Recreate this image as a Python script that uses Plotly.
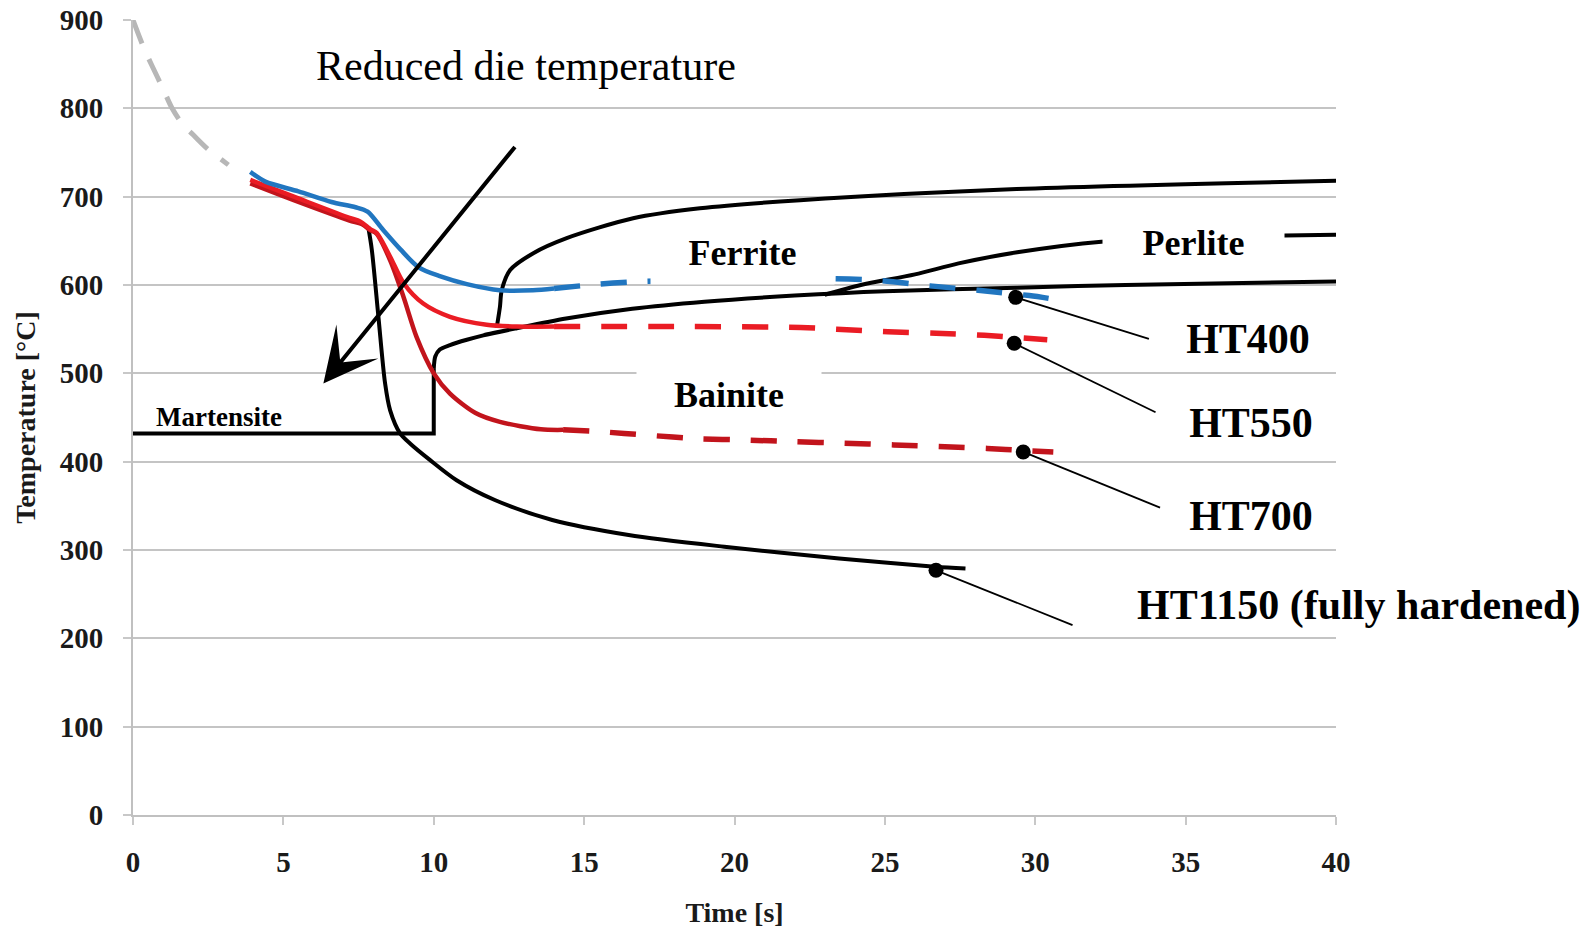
import plotly.graph_objects as go

# ---------------------------------------------------------------- data
# initial transfer cooling (grey dashed)
transfer_t = [0, 0.34, 0.62, 1.0, 1.3, 1.67, 2.0, 2.45, 2.67, 3.17]
transfer_T = [900, 870, 849, 822, 800, 781, 770, 755, 749, 736]

# HT400 cooling curve: solid (measured) + dashed (holding)
ht400_t = [3.9, 4.4, 5.5, 6.6, 7.4, 7.8, 8.3, 8.9, 9.5, 10.2, 11.1, 12.2, 13.3, 14.0]
ht400_T = [728, 717, 706, 694, 688, 683, 663, 640, 620, 610, 601, 594, 594, 596]
ht400_dash_t = [14.0, 15.5, 17.0, 20.0, 23.3, 24.9, 26.5, 28.1, 29.8, 30.6]
ht400_dash_T = [596, 601, 604, 606, 607, 605, 599, 594, 588, 584]

# HT550 cooling curve
ht550_t = [3.9, 5.5, 7.2, 7.55, 7.9, 8.1, 8.55, 9.0, 9.65, 10.54, 11.76, 12.76, 14.0]
ht550_T = [719, 698, 676, 672, 663, 659, 632, 602, 579, 564, 555, 553, 553]
ht550_dash_t = [14.0, 18.0, 22.2, 23.4, 25.1, 26.7, 28.3, 29.6, 30.4]
ht550_dash_T = [553, 553, 552, 550, 547, 545.5, 543, 540, 538]

# HT700 cooling curve
ht700_t = [3.9, 5.5, 7.2, 7.6, 7.9, 8.1, 8.55, 8.99, 9.43, 10.0, 10.54, 11.39, 12.2, 13.56, 14.3]
ht700_T = [715, 694, 673, 669, 662, 658, 628, 587, 541, 500, 477, 455, 445, 436.6, 436]
ht700_dash_t = [14.3, 15.5, 17.1, 18.8, 20.4, 22.0, 23.6, 25.3, 27.0, 28.4, 29.7, 30.6]
ht700_dash_T = [436, 434, 430, 426, 424.5, 422.6, 421, 419, 417, 415, 412.5, 411]

# HT1150 (fully hardened) cooling curve
ht1150_t = [7.82, 7.94, 8.16, 8.38, 8.55, 8.88, 9.23, 9.87, 10.76, 12.03, 13.94, 16.48, 19.66, 23.48, 26.66, 27.68]
ht1150_T = [666, 640, 564, 489, 458, 432, 420, 402, 379, 356.6, 334, 317, 303.7, 290.4, 281, 279]

# transformation boundaries (CCT)
martensite_t = [0, 10, 10]
martensite_T = [432, 432, 505]
bainite_start_t = [10, 10.05, 10.2, 10.54, 11.1, 11.65, 12.76, 14.4, 16.6, 19, 22, 25, 29.4, 33, 40]
bainite_start_T = [505, 519, 527, 532, 538, 543, 551, 562, 573, 581, 588, 593, 597, 600, 604]
ferrite_start_t = [12.1, 12.2, 12.26, 12.54, 13.31, 14.42, 16.63, 18.85, 22.18, 29.38, 40]
ferrite_start_T = [553, 575, 594, 617, 636, 653, 675.5, 686.8, 696, 708.6, 718]
perlite_start_t = [23.0, 24.2, 26.0, 27.45, 29.4, 32.2, 35, 38.3, 40]
perlite_start_T = [589, 600, 612, 624.5, 637, 649, 653, 656, 657]

# end-of-quench points and their label leaders
end_names = ["HT400", "HT550", "HT700", "HT1150 (fully hardened)"]
end_t = [29.35, 29.3, 29.6, 26.7]
end_T = [586, 534, 411, 277]
leader_t = [33.78, 34.0, 34.15, 31.24]
leader_T = [539, 456, 348, 215]

x_ticks = [0, 5, 10, 15, 20, 25, 30, 35, 40]
y_ticks = [0, 100, 200, 300, 400, 500, 600, 700, 800, 900]

# ---------------------------------------------------------------- style
SERIF = "Liberation Serif"
BLUE = "#2176c0"
RED = "#ea1c24"
DARKRED = "#c2141c"
GREY = "#b7b7b7"
DASH = "26px,21px"

fig = go.Figure()


def curve(t, T, color, width, dash="solid", shape="spline", smoothing=0.8):
    line = dict(color=color, width=width, dash=dash, shape=shape)
    if shape == "spline":
        line["smoothing"] = smoothing
    fig.add_trace(go.Scatter(x=t, y=T, mode="lines", line=line,
                             hoverinfo="skip", showlegend=False))


curve(transfer_t, transfer_T, GREY, 5, dash="25px,17px")

# CCT boundaries
curve(martensite_t, martensite_T, "black", 4, shape="linear")
curve(bainite_start_t, bainite_start_T, "black", 4)
curve(ferrite_start_t, ferrite_start_T, "black", 4)
curve(perlite_start_t, perlite_start_T, "black", 4)
curve(ht1150_t, ht1150_T, "black", 4)

# cooling curves
curve(ht700_t, ht700_T, DARKRED, 4.5)
curve(ht700_dash_t, ht700_dash_T, DARKRED, 5.5, dash=DASH)
curve(ht550_t, ht550_T, RED, 4.5)
curve(ht550_dash_t, ht550_dash_T, RED, 5.5, dash=DASH)
curve(ht400_t, ht400_T, BLUE, 4.5)
curve(ht400_dash_t, ht400_dash_T, BLUE, 5.5, dash=DASH)

# leaders from end points to labels
for t0, T0, t1, T1 in zip(end_t, end_T, leader_t, leader_T):
    fig.add_trace(go.Scatter(x=[t0, t1], y=[T0, T1], mode="lines",
                             line=dict(color="black", width=1.8),
                             hoverinfo="skip", showlegend=False))

fig.add_trace(go.Scatter(x=end_t, y=end_T, mode="markers", text=end_names,
                         marker=dict(color="black", size=15),
                         hoverinfo="text", showlegend=False))

# ---------------------------------------------------------------- labels
def label(text, x, y, size, width=None, height=None, bold=True, **kw):
    fig.add_annotation(
        x=x, y=y, xref="x", yref="y", text=text, showarrow=False,
        font=dict(family=SERIF, size=size, color="black",
                  weight="bold" if bold else "normal"),
        bgcolor="white" if width else None, width=width, height=height,
        borderpad=0, xanchor="center", yanchor="middle", **kw)


label("Reduced die temperature", 13.07, 848, 42, bold=False)
label("Martensite", 2.86, 450.6, 27)
label("Ferrite", 20.26, 636.5, 36, width=183, height=62)
label("Bainite", 19.82, 475, 36, width=184, height=52)
label("Perlite", 35.26, 648, 36, width=181, height=50)
label("HT400", 37.06, 539, 42, width=150, height=50)
label("HT550", 37.19, 444, 42, width=150, height=50)
label("HT700", 37.19, 338, 42, width=150, height=50)
label("HT1150 (fully hardened)", 40, 237.7, 42, xshift=22)

# "reduced die temperature" direction arrow
fig.add_annotation(x=6.33, y=488.6, ax=12.74, ay=758, xref="x", yref="y",
                   axref="x", ayref="y", text="", showarrow=True,
                   arrowhead=3, arrowsize=2.25, arrowwidth=4,
                   arrowcolor="black", standoff=0)

# ---------------------------------------------------------------- axes
tick_font = dict(family=SERIF, size=29, color="#1a1a1a", weight="bold")
fig.update_xaxes(
    range=[0, 40], tickvals=x_ticks, ticktext=[str(v) for v in x_ticks],
    showgrid=False, zeroline=False, showline=True, linecolor="#c0c0c0",
    linewidth=2, ticks="outside", ticklen=8, tickwidth=1.5,
    tickcolor="#c8c8c8", tickfont=tick_font, ticklabelstandoff=12,
    title=dict(text="Time [s]", standoff=26,
               font=dict(family=SERIF, size=28, color="#1a1a1a",
                         weight="bold")))
fig.update_yaxes(
    range=[0, 900], tickvals=y_ticks, ticktext=[str(v) for v in y_ticks],
    showgrid=True, gridcolor="#c4c4c4", gridwidth=2, zeroline=False,
    showline=True, linecolor="#c0c0c0", linewidth=2, ticks="outside",
    ticklen=8, tickwidth=1.5, tickcolor="#c8c8c8", tickfont=tick_font,
    ticklabelstandoff=14,
    title=dict(text="Temperature [°C]", standoff=16,
               font=dict(family=SERIF, size=28, color="#1a1a1a",
                         weight="bold")))

fig.update_layout(
    width=1594, height=931, autosize=False,
    margin=dict(l=133, r=258, t=20, b=116, autoexpand=False),
    paper_bgcolor="white", plot_bgcolor="white", showlegend=False)

fig.write_html("out.html")
